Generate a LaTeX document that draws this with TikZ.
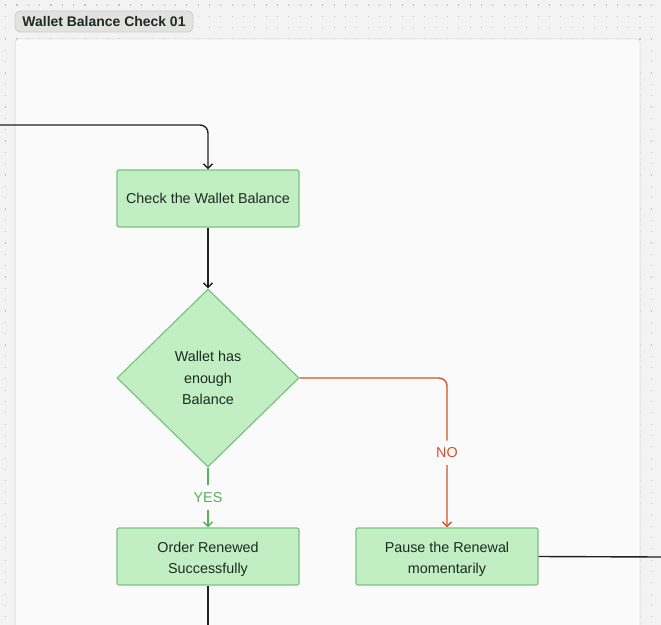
\documentclass[tikz,border=0pt]{standalone}
\usepackage{fontspec}
\setmainfont{Liberation Sans}
\usetikzlibrary{shapes.geometric,arrows.meta}
\definecolor{bgc}{HTML}{F3F3F3}
\definecolor{dotc}{HTML}{C4C4C4}
\definecolor{framefill}{HTML}{FAFAFA}
\definecolor{frameline}{HTML}{E4E4E4}
\definecolor{pillfill}{HTML}{E2E2E2}
\definecolor{pillline}{HTML}{CDCDCD}
\definecolor{boxfill}{HTML}{C1EFC3}
\definecolor{boxline}{HTML}{7CC27F}
\definecolor{txt}{HTML}{1E2A20}
\definecolor{lnblack}{HTML}{222222}
\definecolor{lnred}{HTML}{D0532C}
\definecolor{lngreen}{HTML}{5AAE5E}
\tikzset{
  fbox/.style={draw=boxline, fill=boxfill, line width=1.2bp, rounded corners=2bp,
    minimum width=182bp, minimum height=57bp, inner sep=2bp, align=center,
    text=txt, font=\fontsize{14.4}{21}\selectfont},
  fdia/.style={diamond, draw=boxline, fill=boxfill, line width=1.2bp,
    minimum width=182bp, minimum height=178bp, inner sep=1bp, align=center,
    text=txt, font=\fontsize{14.4}{21.5}\selectfont},
  conn/.style={line width=1.4bp, arrows={-Straight Barb[length=4.5bp,width=9bp,line width=1.4bp]}},
  plain/.style={line width=1.4bp},
  lbl/.style={fill=framefill, inner xsep=3bp, inner ysep=7bp, font=\fontsize{14.4}{16}\selectfont},
}
\begin{document}
\begin{tikzpicture}[x=1bp,y=-1bp]
\useasboundingbox (0,0) rectangle (661,625);
\fill[bgc] (0,0) rectangle (661,625);
\foreach \i in {0,...,58}{
  \foreach \j in {0,...,55}{
    \fill[dotc] ({5.6+11.33*\i-0.6},{5+11.33*\j-0.6}) rectangle ++(1.2,1.2);
  }
}
% frame
\filldraw[fill=framefill, draw=frameline, line width=1bp, rounded corners=4bp]
  (15,640) -- (15,39) -- (640,39) -- (640,640);
% title pill
\node[draw=pillline, fill=pillfill, line width=0.8bp, rounded corners=5bp,
  minimum width=178bp, minimum height=21bp, inner sep=0pt,
  font=\fontsize{14}{16}\selectfont\bfseries, text=txt] (title) at (104,21.5) {Wallet Balance Check 01};
% nodes
\node[fbox] (check) at (208,198.5) {Check the Wallet Balance};
\node[fdia] (dia) at (208,378) {Wallet has\\enough\\Balance};
\node[fbox] (ord) at (208,556.5) {\rule{0pt}{16bp}Order Renewed\\Successfully};
\node[fbox] (pause) at (447,556.5) {\rule{0pt}{16bp}Pause the Renewal\\momentarily};
\coordinate (inL) at (0,125);
\coordinate (outR) at (661,557);
\coordinate (outB) at (208,640);
% connectors
\draw[conn, lnblack, rounded corners=8bp] (inL) -| (check.north);
\draw[conn, lnblack] (check.south) -- (dia.north);
\draw[conn, lngreen] (dia.south) -- node[lbl, text=lngreen, pos=0.5] {YES} (ord.north);
\draw[conn, lnred, rounded corners=8bp] (dia.east) -| node[lbl, text=lnred, pos=0.75] {NO} (pause.north);
\draw[plain, lnblack] (pause.east) -- (outR);
\draw[plain, lnblack] (ord.south) -- (outB);
\end{tikzpicture}
\end{document}
